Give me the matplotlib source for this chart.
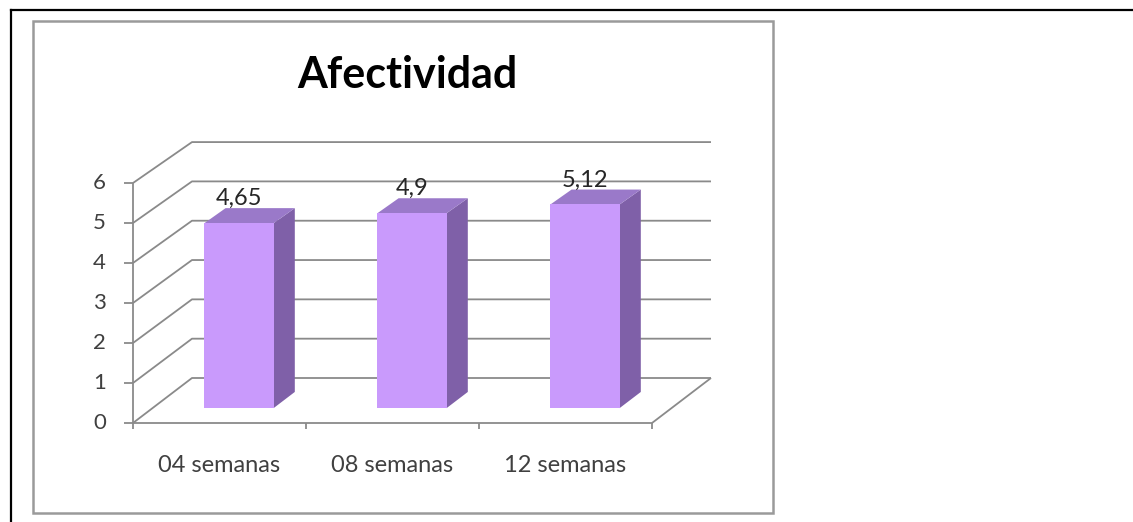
import matplotlib
matplotlib.use('Agg')
import matplotlib.pyplot as plt
from matplotlib.patches import Polygon, Rectangle
from matplotlib.lines import Line2D

plt.rcParams['font.family'] = ['Lato', 'DejaVu Sans']

# chart data
categories = ['04 semanas', '08 semanas', '12 semanas']
values = [4.65, 4.9, 5.12]
value_labels = ['4,65', '4,9', '5,12']
y_ticks = [0, 1, 2, 3, 4, 5, 6]

# oblique 3d projection (depth d from 0 = front to 1 = back wall)
DX = 0.341   # x shift of the back wall, in category units
DY = 1.125   # y shift of the back wall, in value units
SHRINK = 0.017

def proj(x, v, d):
    return (x + d * DX, v * (1 - SHRINK * d) + d * DY)

def line3d(ax, pts, **kw):
    xy = [proj(*p) for p in pts]
    ax.plot([p[0] for p in xy], [p[1] for p in xy], **kw)

fig = plt.figure(figsize=(11.33, 5.22), dpi=100)
ax = fig.add_axes([0, 0, 1, 1])
px_x, px_y = 173.0, 40.0
ax.set_xlim(-0.5 - 133 / px_x, -0.5 + 1000 / px_x)
ax.set_ylim(-99 / px_y, 423 / px_y)
ax.axis('off')

# page frame and chart box
fig.add_artist(Line2D([11 / 1133, 11 / 1133], [0, 1 - 10 / 522], color='black', lw=1.6))
fig.add_artist(Line2D([11 / 1133, 1], [1 - 10 / 522, 1 - 10 / 522], color='black', lw=1.6))
fig.add_artist(Rectangle((33 / 1133, 1 - 513 / 522), 740 / 1133, 492 / 522,
                         fill=False, edgecolor='#9a9a9a', lw=1.8))

grid_kw = dict(color='#8a8a8a', lw=1.3, zorder=1, solid_capstyle='butt')
x0, x1 = -0.5, len(categories) - 0.5

# back wall gridlines and left wall diagonals
for v in y_ticks:
    line3d(ax, [(x0, v, 0), (x0, v, 1), (x1, v, 1)], **grid_kw)
    line3d(ax, [(x0 - 9 / px_x, v, 0), (x0, v, 0)], **grid_kw)

# floor and front axes
line3d(ax, [(x0, 0, 0), (x1, 0, 0), (x1, 0, 1)], **grid_kw)
line3d(ax, [(x0, 0, 0), (x0, y_ticks[-1], 0)], **grid_kw)
for k in range(len(categories) + 1):
    line3d(ax, [(x0 + k, 0, 0), (x0 + k, -6 / px_y, 0)], **grid_kw)

# bars
w = 0.4
d0, d1 = 0.33, 0.69
front_c, side_c, top_c = '#c99afc', '#7f60a8', '#9a79c9'
for i, v in enumerate(values):
    l, r = i - w / 2, i + w / 2
    side = [proj(r, 0, d0), proj(r, 0, d1), proj(r, v, d1), proj(r, v, d0)]
    top = [proj(l, v, d0), proj(r, v, d0), proj(r, v, d1), proj(l, v, d1)]
    front = [proj(l, 0, d0), proj(r, 0, d0), proj(r, v, d0), proj(l, v, d0)]
    ax.add_patch(Polygon(side, closed=True, facecolor=side_c, edgecolor='none', zorder=3))
    ax.add_patch(Polygon(top, closed=True, facecolor=top_c, edgecolor='none', zorder=3))
    ax.add_patch(Polygon(front, closed=True, facecolor=front_c, edgecolor='none', zorder=4))
    lx = proj(i, v, d0)[0]
    ly = proj(r, v, d1)[1]
    ax.text(lx, ly - 1 / px_y, value_labels[i], ha='center', va='bottom',
            fontsize=17, color='#262626', zorder=5)

# tick labels
for v in y_ticks:
    xx, yy = proj(x0, v, 0)
    ax.text(xx - 27 / px_x, yy, str(v), ha='right', va='center',
            fontsize=16, color='#404040')
for i, c in enumerate(categories):
    ax.text(i, -42 / px_y, c, ha='center', va='center', fontsize=17, color='#404040')

# title
ax.text(-0.5 + 274 / px_x, 348 / px_y, 'Afectividad', ha='center', va='center',
        fontsize=31, fontweight='bold', color='black')

fig.savefig('out.png', dpi=100)
